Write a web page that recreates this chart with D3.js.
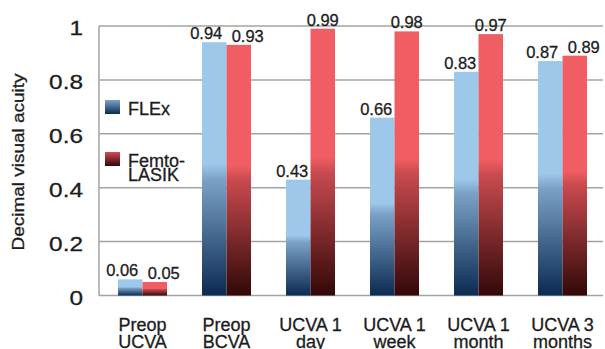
<!DOCTYPE html>
<html>
<head>
<meta charset="utf-8">
<script src="https://cdn.jsdelivr.net/npm/d3@7"></script>
<style>
  html, body { margin: 0; padding: 0; background: #ffffff; }
  svg { display: block; }
  text { stroke: #1c1c1c; stroke-width: 0.3px; }
</style>
</head>
<body>
<div id="chart"></div>
<script>
// ---- data ----
const categories = [
  ["Preop", "UCVA"],
  ["Preop", "BCVA"],
  ["UCVA 1", "day"],
  ["UCVA 1", "week"],
  ["UCVA 1", "month"],
  ["UCVA 3", "months"]
];
const flexValues  = [0.06, 0.94, 0.43, 0.66, 0.83, 0.87];
const femtoValues = [0.05, 0.93, 0.99, 0.98, 0.97, 0.89];
const seriesNames = ["FLEx", "Femto-LASIK"];
const legendLines = [["FLEx"], ["Femto-", "LASIK"]];
const yTicks = [0, 0.2, 0.4, 0.6, 0.8, 1];
const yTickLabels = ["0", "0.2", "0.4", "0.6", "0.8", "1"];
const yTitle = "Decimal visual acuity";

// ---- layout ----
const W = 605, H = 349;
const plotLeft = 99, plotRight = 603, plotTop = 26, plotBottom = 295.5;
const FONT = "Liberation Sans, Arial, Helvetica, sans-serif";

const svg = d3.select("#chart").append("svg")
  .attr("width", W).attr("height", H);

const defs = svg.append("defs");
function makeGrad(id, light, mid, dark) {
  const g = defs.append("linearGradient").attr("id", id)
    .attr("x1", 0).attr("y1", 0).attr("x2", 0).attr("y2", 1);
  g.append("stop").attr("offset", "0%").attr("stop-color", light);
  g.append("stop").attr("offset", "48%").attr("stop-color", light);
  g.append("stop").attr("offset", "54%").attr("stop-color", mid);
  g.append("stop").attr("offset", "100%").attr("stop-color", dark);
}
makeGrad("gBlue", "#9ec8ea", "#7ca2c8", "#0b2a52");
makeGrad("gRed", "#f05e63", "#c84a4f", "#320808");
function makeSwatchGrad(id, light, dark) {
  const g = defs.append("linearGradient").attr("id", id)
    .attr("x1", 0).attr("y1", 0).attr("x2", 0).attr("y2", 1);
  g.append("stop").attr("offset", "0%").attr("stop-color", light);
  g.append("stop").attr("offset", "100%").attr("stop-color", dark);
}
makeSwatchGrad("sBlue", "#7ca2c8", "#0b2a52");
makeSwatchGrad("sRed", "#d24c52", "#320808");
const fills = ["url(#gBlue)", "url(#gRed)"];
const swatchFills = ["url(#sBlue)", "url(#sRed)"];

const y = d3.scaleLinear().domain([0, 1]).range([plotBottom, plotTop]);
const x0 = d3.scaleBand().domain(d3.range(categories.length))
  .range([plotLeft + 1.5, plotRight + 1.5]).padding(0);
const groupW = 49;
const x1 = d3.scaleBand().domain([0, 1])
  .range([(x0.bandwidth() - groupW) / 2, (x0.bandwidth() + groupW) / 2]).padding(0);

const textColor = "#1c1c1c";
const gridColor = "#a3a3a3";

// gridlines
svg.append("g").selectAll("line").data(yTicks).join("line")
  .attr("x1", plotLeft).attr("x2", plotRight)
  .attr("y1", d => y(d)).attr("y2", d => y(d))
  .attr("stroke", gridColor).attr("stroke-width", 1.5);
// left axis line
svg.append("line")
  .attr("x1", plotLeft).attr("x2", plotLeft)
  .attr("y1", y(1)).attr("y2", y(0))
  .attr("stroke", gridColor).attr("stroke-width", 1.5);

// y tick labels (wide lettering as in the reference)
svg.append("g").selectAll("text").data(yTicks).join("text")
  .attr("transform", d => `translate(83,${y(d) + 9}) scale(1.22,1)`)
  .attr("text-anchor", "end")
  .attr("font-family", FONT)
  .attr("font-size", 20)
  .attr("fill", textColor)
  .text((d, i) => yTickLabels[i]);

// y title
svg.append("text")
  .attr("transform", "translate(24,162) rotate(-90)")
  .attr("text-anchor", "middle")
  .attr("font-family", FONT)
  .attr("font-size", 16)
  .attr("textLength", 177)
  .attr("lengthAdjust", "spacingAndGlyphs")
  .attr("fill", textColor)
  .text(yTitle);

// bars
const series = [flexValues, femtoValues];
const barData = [];
categories.forEach((c, i) => {
  series.forEach((vals, s) => barData.push({ i, s, v: vals[i] }));
});
svg.append("g").selectAll("rect").data(barData).join("rect")
  .attr("x", d => x0(d.i) + x1(d.s))
  .attr("width", x1.bandwidth())
  .attr("y", d => y(d.v))
  .attr("height", d => y(0) - y(d.v))
  .attr("fill", d => fills[d.s]);

// value labels
function labelDx(d) {
  const collide = Math.abs(flexValues[d.i] - femtoValues[d.i]) < 0.06;
  if (d.s === 0) return collide ? -8 : -6;
  return collide ? 9 : 0;
}
svg.append("g").selectAll("text").data(barData).join("text")
  .attr("x", d => x0(d.i) + x1(d.s) + x1.bandwidth() / 2 + labelDx(d))
  .attr("y", d => y(d.v) - 3)
  .attr("text-anchor", "middle")
  .attr("font-family", FONT)
  .attr("font-size", 16.5)
  .attr("fill", textColor)
  .text(d => d.v.toFixed(2));

// category labels
const catG = svg.append("g").selectAll("text").data(categories).join("text")
  .attr("text-anchor", "middle")
  .attr("font-family", FONT)
  .attr("font-size", 18)
  .attr("fill", textColor);
catG.each(function (c, i) {
  const t = d3.select(this);
  const cx = x0(i) + x0.bandwidth() / 2;
  c.forEach((line, k) => {
    t.append("tspan").attr("x", cx).attr("y", 330.5 + k * 17).text(line);
  });
});

// legend
const legendY = [100, 152];
const legend = svg.append("g").selectAll("g").data(seriesNames).join("g");
legend.append("rect")
  .attr("x", 105).attr("y", (d, i) => legendY[i])
  .attr("width", 15).attr("height", 14)
  .attr("fill", (d, i) => swatchFills[i]);
legend.append("text")
  .attr("font-family", FONT)
  .attr("font-size", 18)
  .attr("fill", textColor)
  .each(function (d, i) {
    const t = d3.select(this);
    legendLines[i].forEach((line, k) => {
      t.append("tspan").attr("x", 128).attr("y", legendY[i] + 14.5 + k * 14).text(line);
    });
  });
</script>
</body>
</html>
